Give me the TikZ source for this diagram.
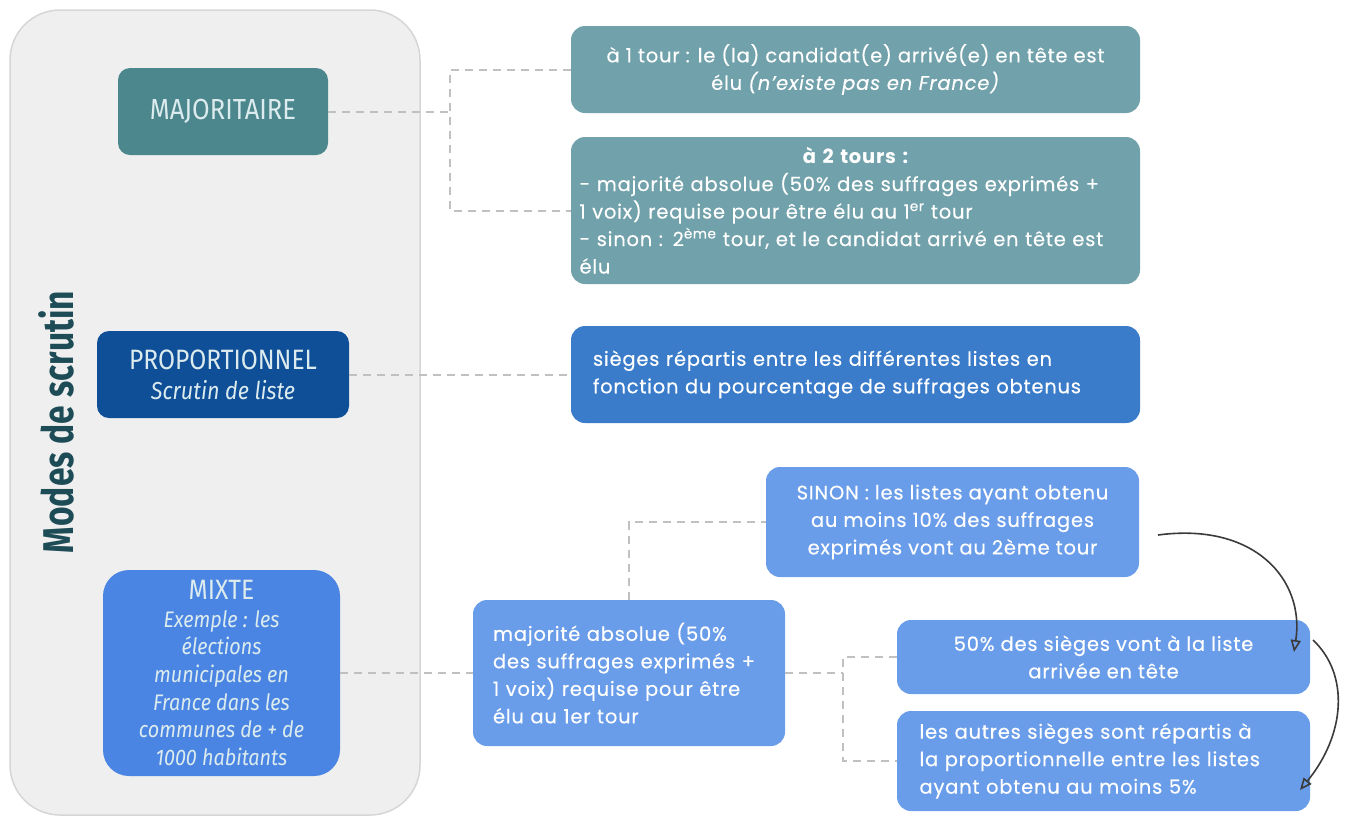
\documentclass[tikz,border=0pt]{standalone}
\usepackage{fontspec}
\setmainfont{Poppins}[LetterSpace=4,Numbers=Proportional,UprightFeatures={FakeBold=0.3},ItalicFeatures={FakeBold=0.3}]
\newfontfamily\condfont[FakeStretch=0.88]{Fira Sans}
\newfontfamily\titlefont[FakeStretch=0.78]{Fira Sans}
\usetikzlibrary{arrows.meta,calc}
\definecolor{panelfill}{HTML}{EFEFEF}
\definecolor{paneldraw}{HTML}{D6D6D6}
\definecolor{titlec}{HTML}{1D4C57}
\definecolor{majc}{HTML}{4B878C}
\definecolor{propc}{HTML}{0E4F98}
\definecolor{mixc}{HTML}{4A85E3}
\definecolor{tealbox}{HTML}{71A1AA}
\definecolor{pbox}{HTML}{3A7CCA}
\definecolor{lbox}{HTML}{6A9DE9}
\definecolor{dashc}{HTML}{C0C0C0}
\definecolor{lefttext}{HTML}{DCEBEE}
\definecolor{arrowc}{HTML}{3A3A3A}
\tikzset{
  leftbox/.style={rectangle, rounded corners=12pt, draw=none, text=lefttext,
    font=\condfont\fontsize{28}{30}\selectfont, align=center, inner sep=4pt},
  rbox/.style={rectangle, rounded corners=14pt, draw=none, text=white,
    font=\fontsize{19.5}{27.5}\selectfont, inner sep=0pt},
  conn/.style={draw=dashc, line width=2pt, dash pattern=on 8pt off 6pt},
  curvearrow/.style={draw=arrowc, line width=1.6pt, -{Triangle[open,length=12pt,width=10pt]}}
}
\begin{document}
\begin{tikzpicture}[x=1pt,y=-1pt]
\useasboundingbox (0,0) rectangle (1354,823);
% panel
\node[rectangle, rounded corners=50pt, fill=panelfill, draw=paneldraw, line width=1.5pt,
  minimum width=410, minimum height=805, inner sep=0pt] (panel) at (215,412.5) {};
\node[rotate=90, text=titlec, font=\titlefont\bfseries\fontsize{43}{46}\selectfont] (title) at (56,422) {Modes de scrutin};
% left boxes
\node[leftbox, fill=majc, minimum width=210, minimum height=87, font=\condfont\fontsize{29}{30}\selectfont] (maj) at (223,111.5) {MAJORITAIRE};
\node[leftbox, fill=propc, minimum width=252, minimum height=87] (prop) at (223,374.5)
  {PROPORTIONNEL\\\fontsize{24.5}{30}\selectfont\itshape Scrutin de liste};
\node[leftbox, fill=mixc, rounded corners=26pt, minimum width=237, minimum height=206,
  font=\condfont\itshape\fontsize{22.5}{27.6}\selectfont] (mix) at (221.5,673)
  {\fontsize{28}{28}\selectfont\upshape MIXTE\\
   Exemple : les\\élections\\municipales en\\France dans les\\communes de + de\\1000 habitants};
% right boxes
\node[rbox, fill=tealbox, minimum width=569, minimum height=87, align=center] (a1) at (855.5,69.5)
  {à 1 tour : le (la) candidat(e) arrivé(e) en tête est\\élu \textit{(n'existe pas en France)}};
\node[rbox, fill=tealbox, minimum width=569, minimum height=147, text width=552, align=left] (a2) at (855.5,210.5)
  {\centering{\bfseries à 2 tours :}\par\raggedright
  - majorité absolue (50\% des suffrages exprimés +\\
  1 voix) requise pour être élu au 1\textsuperscript{er} tour\\
  - sinon : 2\textsuperscript{ème} tour, et le candidat arrivé en tête est\\
  élu};
\node[rbox, fill=pbox, minimum width=569, minimum height=97, text width=525, align=left] (p) at (855.5,374.5)
  {sièges répartis entre les différentes listes en\\fonction du pourcentage de suffrages obtenus};
\node[rbox, fill=lbox, minimum width=373, minimum height=110, align=center] (s) at (952.5,522)
  {SINON : les listes ayant obtenu\\au moins 10\% des suffrages\\exprimés vont au 2ème tour};
\node[rbox, fill=lbox, minimum width=312, minimum height=146, text width=272, align=left] (m) at (629,673)
  {majorité absolue (50\%\\des suffrages exprimés +\\1 voix) requise pour être\\élu au 1er tour};
\node[rbox, fill=lbox, minimum width=413, minimum height=74, align=center] (b50) at (1103.5,657)
  {50\% des sièges vont à la liste\\arrivée en tête};
\node[rbox, fill=lbox, minimum width=413, minimum height=100, text width=368, align=left] (autres) at (1103.5,761)
  {les autres sièges sont répartis à\\la proportionnelle entre les listes\\ayant obtenu au moins 5\%};
% dashed connectors
\coordinate (j1) at (450,111.5);
\coordinate (j3) at (843,673);
\draw[conn] (maj.east) -- (j1);
\draw[conn] (a1.west) -| (j1) |- (a2.west);
\draw[conn] (prop.east) -- (p.west);
\draw[conn] (mix.east) -- (m.west);
\draw[conn] (m.north) |- (s.west);
\draw[conn] (m.east) -- (j3);
\draw[conn] (b50.west) -| (j3) |- (autres.west);
% curved arrows
\coordinate (c1s) at (1158,535);
\coordinate (c1e) at (1294,652);
\coordinate (c2s) at (1313,640);
\coordinate (c2e) at (1300,790);
\draw[curvearrow] (c1s) .. controls (1255,522) and (1305,580) .. (c1e);
\draw[curvearrow] (c2s) .. controls (1350,675) and (1345,735) .. (c2e);
\end{tikzpicture}
\end{document}
